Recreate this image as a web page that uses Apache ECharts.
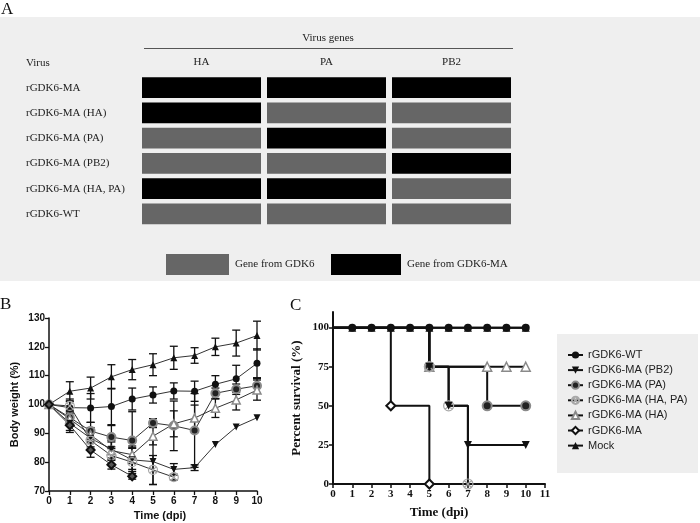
<!DOCTYPE html>
<html><head><meta charset="utf-8">
<script src="https://cdn.jsdelivr.net/npm/echarts@6/dist/echarts.min.js"></script>
<style>html,body{margin:0;padding:0;background:#fff}#c{width:700px;height:523px}</style>
</head><body><div id="c"></div>
<script>
// ---------- Panel A data ----------
const genes = ['HA', 'PA', 'PB2'];
const viruses = ['rGDK6-MA', 'rGDK6-MA (HA)', 'rGDK6-MA (PA)', 'rGDK6-MA (PB2)', 'rGDK6-MA (HA, PA)', 'rGDK6-WT'];
// 1 = gene from GDK6-MA, 0 = gene from GDK6
const geneOrigin = [
  [1, 1, 1],
  [1, 0, 0],
  [0, 1, 0],
  [0, 0, 1],
  [1, 1, 0],
  [0, 0, 0]
];

// ---------- Panel B data (body weight %, mean and SD per day) ----------
const days = [0, 1, 2, 3, 4, 5, 6, 7, 8, 9, 10];
const wMock = [100, 104.6, 105.7, 109.6, 112.1, 113.8, 116.2, 117.0, 120.0, 121.3, 123.9];
const sMock = [0, 3.3, 3.8, 4.2, 3.5, 3.8, 4.0, 2.7, 3.0, 4.5, 5.0];
const wWT = [100, 98.9, 98.8, 99.3, 101.9, 103.3, 104.7, 104.6, 107.0, 108.9, 114.3];
const sWT = [0, 3.0, 5.0, 6.3, 3.8, 2.8, 2.8, 3.5, 3.0, 4.7, 5.0];
const wPA = [100, 95.5, 90.8, 88.7, 87.5, 93.6, 92.6, 91.0, 103.9, 105.3, 106.5];
const sPA = [0, 2.0, 3.0, 4.0, 10.0, 1.5, 8.6, 12.8, 1.8, 1.8, 2.5];
const wHA = [100, 95.0, 89.5, 84.0, 82.6, 89.0, 93.3, 95.3, 98.7, 101.6, 105.0];
const sHA = [0, 2.0, 2.5, 3.0, 3.0, 3.0, 4.5, 4.5, 3.2, 3.5, 3.5];
const wPB2 = [100, 93.5, 88.3, 84.5, 80.8, 80.2, 77.5, 78.1, 86.1, 92.2, 95.4];
const sPB2 = [0, 2.5, 3.0, 3.0, 4.0, 8.0, 2.0, 1.0, 0, 0, 0];
const wHAPA = [100, 99.5, 87.5, 82.3, 80.0, 77.3, 74.8, null, null, null, null];
const sHAPA = [0, 1.5, 3.0, 3.0, 5.0, 5.0, 1.0, 0, 0, 0, 0];
const wMA = [100, 92.8, 84.2, 79.1, 75.1, null, null, null, null, null, null];
const sMA = [0, 2.5, 2.5, 1.5, 1.0, 0, 0, 0, 0, 0, 0];

// ---------- Panel C data (percent survival, [day, %]) ----------
const survWT = [[0, 100], [1, 100], [2, 100], [3, 100], [4, 100], [5, 100], [6, 100], [7, 100], [8, 100], [9, 100], [10, 100]];
const survMock = [[0, 100], [1, 100], [2, 100], [3, 100], [4, 100], [5, 100], [6, 100], [7, 100], [8, 100], [9, 100], [10, 100]];
const survPB2 = [[0, 100], [5, 75], [6, 50], [7, 25], [10, 25]];
const survPA = [[0, 100], [5, 75], [8, 50], [10, 50]];
const survHAPA = [[0, 100], [5, 75], [6, 50], [7, 0]];
const survHA = [[0, 100], [5, 75], [8, 75], [9, 75], [10, 75]];
const survMA = [[0, 100], [3, 50], [5, 0]];

// ---------- styles ----------
const SERIF = '"Liberation Serif", "Times New Roman", serif';
const SANS = '"Liberation Sans", Arial, sans-serif';
const GRAY_CELL = '#666666';
const symDown = 'path://M0,0 L10,0 L5,9 Z';
const symOX = 'path://M10,0 A10,10 0 1,1 9.99,0 Z M3,3 L17,17 M17,3 L3,17';

const styles = {
  WT:   { symbol: 'circle', size: 7, color: '#111', border: '#111', bw: 0 },
  Mock: { symbol: 'triangle', size: 7, color: '#111', border: '#111', bw: 0 },
  PA:   { symbol: 'circle', size: 8, color: '#222', border: '#8a8a8a', bw: 2 },
  HA:   { symbol: 'triangle', size: 8, color: '#ffffff', border: '#8a8a8a', bw: 1.5 },
  PB2:  { symbol: symDown, size: 7, color: '#111', border: '#111', bw: 0 },
  HAPA: { symbol: symOX, size: 9, color: 'rgba(255,255,255,0)', border: '#a8a8a8', bw: 1.2 },
  MA:   { symbol: 'diamond', size: 8, color: '#ffffff', border: '#111', bw: 2 },
  MAB:  { symbol: 'diamond', size: 8, color: '#555', border: '#111', bw: 2 }
};

// ---------- build Panel A ----------
const cellsMA = [], cellsGDK = [];
geneOrigin.forEach((row, r) => row.forEach((v, c) => (v ? cellsMA : cellsGDK).push([c, r])));
function cellRender(params, api) {
  const p = api.coord([api.value(0), api.value(1)]);
  const s = api.size([1, 1]);
  const w = s[0] - 6, h = s[1] - 4.4;
  return { type: 'rect', shape: { x: p[0] - w / 2, y: p[1] - h / 2, width: w, height: h }, style: { fill: api.visual('color') } };
}

// ---------- build Panel B ----------
function lineB(name, w, st) {
  return {
    type: 'line', name: name, xAxisIndex: 1, yAxisIndex: 1,
    data: days.map((d, i) => w[i] == null ? null : [d, w[i]]),
    symbol: st.symbol, symbolSize: st.size, showAllSymbol: true,
    lineStyle: { color: '#333', width: 1 },
    itemStyle: { color: st.color, borderColor: st.border, borderWidth: st.bw },
    emphasis: { disabled: true }, z: 4, animation: false
  };
}
function errB(w, s) {
  const d = [];
  days.forEach((x, i) => { if (w[i] != null && s[i] > 0) d.push([x, w[i] - s[i], w[i] + s[i]]); });
  return {
    type: 'custom', xAxisIndex: 1, yAxisIndex: 1, data: d, z: 3, animation: false, silent: true,
    renderItem: function (params, api) {
      const lo = api.coord([api.value(0), api.value(1)]);
      const hi = api.coord([api.value(0), api.value(2)]);
      const cw = 4;
      const st = { stroke: '#111', lineWidth: 1.3, fill: null };
      return { type: 'group', children: [
        { type: 'line', shape: { x1: lo[0], y1: lo[1], x2: hi[0], y2: hi[1] }, style: st },
        { type: 'line', shape: { x1: lo[0] - cw, y1: lo[1], x2: lo[0] + cw, y2: lo[1] }, style: st },
        { type: 'line', shape: { x1: hi[0] - cw, y1: hi[1], x2: hi[0] + cw, y2: hi[1] }, style: st }
      ] };
    }
  };
}

// ---------- build Panel C ----------
function lineC(name, data, st) {
  return {
    type: 'line', name: name, xAxisIndex: 2, yAxisIndex: 2, data: data, step: 'end',
    symbol: st.symbol, showAllSymbol: true,
    symbolSize: function (v) { return v[0] === 0 ? 0 : st.size + 1; },
    lineStyle: { color: '#111', width: 2 },
    itemStyle: { color: st.color, borderColor: st.border, borderWidth: st.bw },
    emphasis: { disabled: true }, z: 5, animation: false
  };
}

const axisLabelB = { color: '#111', fontFamily: SANS, fontWeight: 'bold', fontSize: 10 };
const axisLabelC = { color: '#111', fontFamily: SERIF, fontWeight: 'bold', fontSize: 11 };

const option = {
  backgroundColor: '#ffffff',
  animation: false,
  graphic: [
    { type: 'rect', left: 0, top: 17, shape: { width: 700, height: 264 }, style: { fill: '#efefef' }, z: -10, silent: true },
    { type: 'text', left: 1, top: 1, style: { text: 'A', font: '17px ' + SERIF, fill: '#111' } },
    { type: 'text', left: 0, top: 296, style: { text: 'B', font: '17px ' + SERIF, fill: '#111' } },
    { type: 'text', left: 290, top: 297, style: { text: 'C', font: '17px ' + SERIF, fill: '#111' } },
    { type: 'text', x: 328, y: 38, style: { text: 'Virus genes', font: '11px ' + SERIF, fill: '#222', align: 'center', verticalAlign: 'middle' } },
    { type: 'line', shape: { x1: 144, y1: 48.5, x2: 513, y2: 48.5 }, style: { stroke: '#555', lineWidth: 1 } },
    { type: 'text', x: 26, y: 63, style: { text: 'Virus', font: '11px ' + SERIF, fill: '#222', align: 'left', verticalAlign: 'middle' } },
    { type: 'rect', left: 557, top: 334, shape: { width: 141, height: 139 }, style: { fill: '#eeeeee' }, z: -5, silent: true }
  ],
  legend: [
    { left: 166, top: 254, padding: 0, data: ['Gene from GDK6'], icon: 'rect', itemWidth: 63, itemHeight: 21, itemGap: 0,
      textStyle: { fontFamily: SERIF, fontSize: 11, color: '#222', padding: [0, 0, 0, 1] }, selectedMode: false },
    { left: 331, top: 254, padding: 0, data: ['Gene from GDK6-MA'], icon: 'rect', itemWidth: 70, itemHeight: 21, itemGap: 0,
      textStyle: { fontFamily: SERIF, fontSize: 11, color: '#222', padding: [0, 0, 0, 1] }, selectedMode: false },
    { left: 567, top: 349, padding: 0, orient: 'vertical', itemWidth: 15, itemHeight: 9, itemGap: 3.1, selectedMode: false,
      data: ['rGDK6-WT', 'rGDK6-MA (PB2)', 'rGDK6-MA (PA)', 'rGDK6-MA (HA, PA)', 'rGDK6-MA (HA)', 'rGDK6-MA', 'Mock'],
      textStyle: { fontFamily: SANS, fontSize: 11, color: '#222', lineHeight: 12 } }
  ],
  grid: [
    { left: 139, width: 375, top: 75, height: 151.5 },
    { left: 49, width: 208, top: 318, height: 173 },
    { left: 333, width: 212, top: 312, height: 172 }
  ],
  xAxis: [
    { type: 'category', gridIndex: 0, data: genes, position: 'top', axisLine: { show: false }, axisTick: { show: false },
      axisLabel: { margin: 7, fontFamily: SERIF, fontSize: 11, color: '#222' }, splitLine: { show: false } },
    { type: 'value', gridIndex: 1, min: 0, max: 10, interval: 1, splitLine: { show: false },
      axisLine: { onZero: false, lineStyle: { color: '#111', width: 1.5 } },
      axisTick: { lineStyle: { color: '#111', width: 1.3 }, length: 4 },
      axisLabel: Object.assign({ margin: 5 }, axisLabelB),
      name: 'Time (dpi)', nameLocation: 'middle', nameGap: 19,
      nameTextStyle: { fontFamily: SANS, fontWeight: 'bold', fontSize: 11, color: '#111', padding: [0, 0, 0, 14] } },
    { type: 'value', gridIndex: 2, min: 0, max: 11, interval: 1, splitLine: { show: false },
      axisLine: { onZero: false, lineStyle: { color: '#111', width: 2 } },
      axisTick: { lineStyle: { color: '#111', width: 1.5 }, length: 4 },
      axisLabel: Object.assign({ margin: 5 }, axisLabelC),
      name: 'Time (dpi)', nameLocation: 'middle', nameGap: 22,
      nameTextStyle: { fontFamily: SERIF, fontWeight: 'bold', fontSize: 13, color: '#111' } }
  ],
  yAxis: [
    { type: 'category', gridIndex: 0, data: viruses, inverse: true, axisLine: { show: false }, axisTick: { show: false },
      axisLabel: { margin: 113, align: 'left', fontFamily: SERIF, fontSize: 11, color: '#222' }, splitLine: { show: false } },
    { type: 'value', gridIndex: 1, min: 70, max: 130, interval: 10, splitLine: { show: false },
      axisLine: { show: true, onZero: false, lineStyle: { color: '#111', width: 1.5 } },
      axisTick: { show: true, lineStyle: { color: '#111', width: 1.3 }, length: 4 },
      axisLabel: Object.assign({ margin: 4 }, axisLabelB),
      name: 'Body weight (%)', nameLocation: 'middle', nameGap: 29,
      nameTextStyle: { fontFamily: SANS, fontWeight: 'bold', fontSize: 11, color: '#111' } },
    { type: 'value', gridIndex: 2, min: 0, max: 110, interval: 25, splitLine: { show: false },
      axisLine: { show: true, onZero: false, lineStyle: { color: '#111', width: 2 } },
      axisTick: { show: true, lineStyle: { color: '#111', width: 1.5 }, length: 4, customValues: [0, 25, 50, 75, 100] },
      axisLabel: Object.assign({ margin: 4, customValues: [0, 25, 50, 75, 100] }, axisLabelC),
      name: 'Percent survival (%)', nameLocation: 'middle', nameGap: 30,
      nameTextStyle: { fontFamily: SERIF, fontWeight: 'bold', fontSize: 13, color: '#111' } }
  ],
  series: [
    { type: 'custom', name: 'Gene from GDK6', xAxisIndex: 0, yAxisIndex: 0, data: cellsGDK, renderItem: cellRender,
      itemStyle: { color: GRAY_CELL }, silent: true },
    { type: 'custom', name: 'Gene from GDK6-MA', xAxisIndex: 0, yAxisIndex: 0, data: cellsMA, renderItem: cellRender,
      itemStyle: { color: '#000000' }, silent: true },

    errB(wMock, sMock), errB(wWT, sWT), errB(wPA, sPA), errB(wHA, sHA), errB(wPB2, sPB2), errB(wHAPA, sHAPA), errB(wMA, sMA),
    lineB('w-Mock', wMock, styles.Mock),
    lineB('w-WT', wWT, styles.WT),
    lineB('w-PA', wPA, styles.PA),
    lineB('w-HA', wHA, styles.HA),
    lineB('w-PB2', wPB2, styles.PB2),
    lineB('w-HAPA', wHAPA, styles.HAPA),
    lineB('w-MA', wMA, styles.MAB),

    lineC('Mock', survMock, styles.Mock),
    lineC('rGDK6-WT', survWT, styles.WT),
    lineC('rGDK6-MA (HA)', survHA, styles.HA),
    lineC('rGDK6-MA (PA)', survPA, styles.PA),
    lineC('rGDK6-MA (HA, PA)', survHAPA, styles.HAPA),
    lineC('rGDK6-MA (PB2)', survPB2, styles.PB2),
    lineC('rGDK6-MA', survMA, styles.MA)
  ]
};
const chart = echarts.init(document.getElementById('c'), null, { renderer: 'canvas' });
chart.setOption(option);
</script>
</body></html>
